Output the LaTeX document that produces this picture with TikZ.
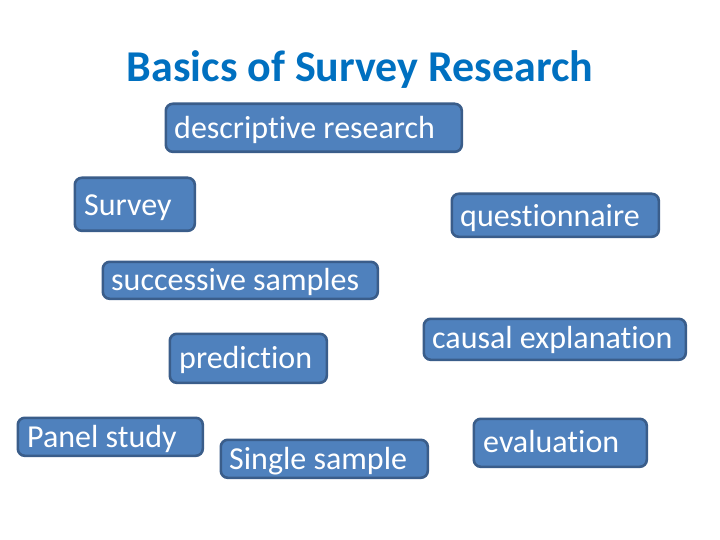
\documentclass[tikz,border=0pt]{standalone}
\usepackage{fontspec}
\setmainfont{Carlito}[Ligatures={NoCommon,NoRequired,NoContextual}]
\definecolor{boxfill}{HTML}{4F81BD}
\definecolor{boxline}{HTML}{3A5D8A}
\definecolor{titleblue}{HTML}{0070C0}
\tikzset{
  box/.style={draw=boxline, fill=boxfill, line width=2.6pt, rounded corners=7pt, anchor=north west, inner sep=0pt},
  lbl/.style={text=white, font=\fontsize{32}{38}\selectfont, anchor=base west, inner sep=0pt},
}
\begin{document}
\begin{tikzpicture}[x=1pt,y=-1pt]
\useasboundingbox[fill=white] (0,0) rectangle (720,540);
\node[text=titleblue, font=\fontsize{44}{52}\selectfont\bfseries, anchor=base, inner sep=0pt] (title) at (360,82) {Basics of Survey Research};
% boxes: outer edges
\node[box, minimum width=296pt, minimum height=48pt] (b1) at (164.5,102.5) {};
\node[lbl] (t1) at (174,139) {descriptive research};
\node[box, minimum width=120pt, minimum height=53pt] (b2) at (73.5,176.5) {};
\node[lbl] (t2) at (84,215) {Survey};
\node[box, minimum width=207pt, minimum height=43pt] (b3) at (450.5,192.5) {};
\node[lbl] (t3) at (460,226) {questionnaire};
\node[box, minimum width=275pt, minimum height=37pt] (b4) at (101.5,260.5) {};
\node[lbl] (t4) at (111,290) {successive samples};
\node[box, minimum width=157pt, minimum height=49pt] (b5) at (168.5,332.5) {};
\node[lbl] (t5) at (179,368) {prediction};
\node[box, minimum width=262pt, minimum height=41pt] (b6) at (422.5,317.5) {};
\node[lbl] (t6) at (432,348) {causal explanation};
\node[box, minimum width=185pt, minimum height=38pt] (b7) at (16.5,416.5) {};
\node[lbl] (t7) at (27,447) {Panel study};
\node[box, minimum width=207pt, minimum height=38pt] (b8) at (219.5,438.5) {};
\node[lbl] (t8) at (229,469) {Single sample};
\node[box, minimum width=173pt, minimum height=48pt] (b9) at (472.5,417.5) {};
\node[lbl] (t9) at (483,452) {evaluation};
\end{tikzpicture}
\end{document}
